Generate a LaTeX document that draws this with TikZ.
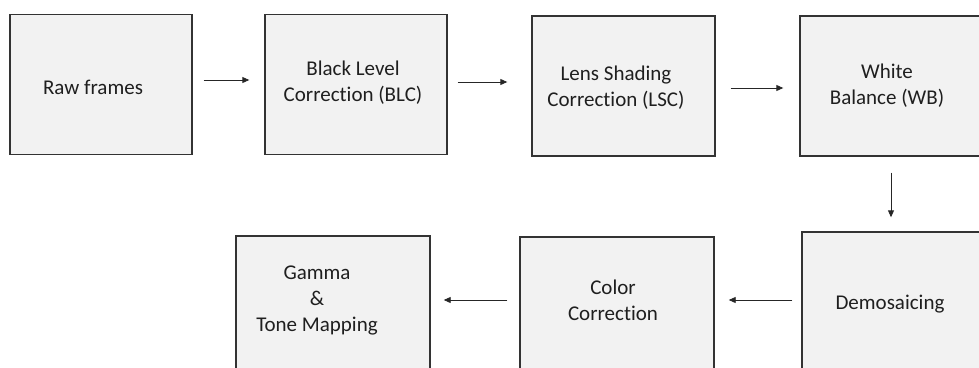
\documentclass[tikz,border=0pt]{standalone}
\usepackage{fontspec}
\setmainfont[RawFeature={-liga}]{Carlito}
\usetikzlibrary{arrows.meta}
\definecolor{boxfill}{HTML}{F2F2F2}
\definecolor{boxline}{HTML}{333333}
\definecolor{txtcol}{HTML}{1F1F1F}
\tikzset{
  box/.style={draw=boxline, fill=boxfill, line width=1.4pt, minimum width=182pt, minimum height=140pt, inner sep=0pt, anchor=center},
  txt/.style={text=txtcol, font=\fontsize{21}{26}\selectfont, align=center, inner sep=0pt},
  arr/.style={draw=black!85, line width=0.9pt, -{Triangle[length=7pt,width=6pt]}}
}
\begin{document}
\begin{tikzpicture}[x=1pt,y=-1pt]
\useasboundingbox (0,0) rectangle (979,367);
\clip (0,0) rectangle (979,367);
% top row
\node[box] (raw) at (101,84.5) {};
\node[txt] (rawt) at (93,87) {Raw frames};
\node[box] (blc) at (356,84.5) {};
\node[txt] (blct) at (353,83) {Black Level\\Correction (BLC)};
\node[box, minimum width=183pt] (lsc) at (623.5,86) {};
\node[txt] (lsct) at (616,88) {Lens Shading\\Correction (LSC)};
\node[box] (wb) at (891,86) {};
\node[txt] (wbt) at (887,86) {White\\Balance (WB)};
% bottom row
\node[box] (dem) at (893,302) {};
\node[txt] (demt) at (890,304) {Demosaicing};
\node[box, minimum width=194pt] (cc) at (617,307) {};
\node[txt] (cct) at (613,300) {Color\\Correction};
\node[box, minimum width=194pt] (gam) at (333,306) {};
\node[txt] (gamt) at (317,300) {Gamma\\\&\\Tone Mapping};
% connectors
\draw[arr] ([xshift=11pt,yshift=4.5pt]raw.east) -- ([xshift=-15pt,yshift=4.5pt]blc.west);
\draw[arr] ([xshift=10pt,yshift=2.5pt]blc.east) -- ([xshift=-24pt,yshift=4pt]lsc.west);
\draw[arr] ([xshift=15pt,yshift=-2pt]lsc.east) -- ([xshift=-16pt,yshift=-2pt]wb.west);
\draw[arr] ([yshift=-16pt]wb.south) -- ([xshift=-2pt,yshift=14pt]dem.north);
\draw[arr] ([xshift=-9pt,yshift=2pt]dem.west) -- ([xshift=14pt,yshift=7pt]cc.east);
\draw[arr] ([xshift=-12pt,yshift=7pt]cc.west) -- ([xshift=13pt,yshift=6pt]gam.east);
\end{tikzpicture}
\end{document}
